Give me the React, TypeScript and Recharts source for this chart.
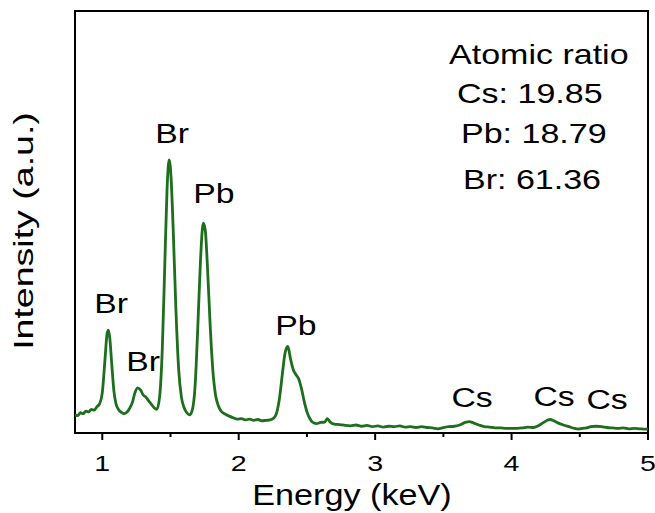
import React from "react";
import { LineChart, Line, XAxis, YAxis, ReferenceArea, Customized } from "recharts";

// EDS spectrum (keV vs arbitrary intensity, 0-100)
const energy = [
    0.8, 0.82, 0.84, 0.86, 0.88, 0.9, 0.92, 0.94, 0.96, 0.98,
    1.0, 1.02, 1.035, 1.045, 1.055, 1.07, 1.085, 1.1, 1.12, 1.14,
    1.16, 1.18, 1.2, 1.22, 1.24, 1.26, 1.28, 1.3, 1.32, 1.34,
    1.36, 1.38, 1.4, 1.42, 1.44, 1.46, 1.475, 1.49, 1.505, 1.52,
    1.54, 1.56, 1.58, 1.6, 1.62, 1.64, 1.66, 1.68, 1.7, 1.72,
    1.74, 1.755, 1.77, 1.79, 1.81, 1.83, 1.85, 1.87, 1.9, 1.93,
    1.96, 1.99, 2.02, 2.05, 2.08, 2.11, 2.14, 2.17, 2.2, 2.23,
    2.26, 2.28, 2.3, 2.32, 2.34, 2.36, 2.38, 2.4, 2.42, 2.44,
    2.46, 2.48, 2.5, 2.52, 2.54, 2.57, 2.6, 2.63, 2.65, 2.67,
    2.7, 2.74, 2.78, 2.82, 2.86, 2.9, 2.94, 2.98, 3.02, 3.06,
    3.1, 3.14, 3.18, 3.22, 3.26, 3.3, 3.34, 3.38, 3.42, 3.46,
    3.5, 3.54, 3.58, 3.62, 3.66, 3.69, 3.72, 3.76, 3.8, 3.84,
    3.88, 3.92, 3.96, 4.0, 4.04, 4.08, 4.12, 4.16, 4.2, 4.24,
    4.28, 4.31, 4.34, 4.38, 4.42, 4.46, 4.49, 4.52, 4.55, 4.58,
    4.62, 4.66, 4.7, 4.74, 4.78, 4.82, 4.86, 4.9, 4.94, 4.98, 5.0,
];
const intensity = [
    4.3, 4.1, 4.8, 4.6, 5.2, 5.0, 5.6, 5.4, 6.2, 6.9,
    9.5, 17.5, 23.5, 24.4, 22.5, 16, 10, 7, 5.5, 4.9,
    4.6, 4.9, 5.8, 7.2, 9.6, 10.7, 10.2, 9.0, 8.5, 7.6,
    6.8, 6.0, 5.6, 8.5, 20, 42, 58, 64.7, 60, 48,
    29, 15, 8.5, 6, 4.8, 4.3, 5.5, 11, 25, 41,
    49.7, 48, 40, 26, 15, 9, 6.5, 5.2, 4.5, 4.0,
    3.6, 3.3, 3.4, 3.1, 3.3, 3.0, 3.2, 2.9, 3.0, 3.1,
    3.6, 5, 8.5, 14, 19, 20.5, 17.5, 15, 13.8, 12.8,
    10.5, 7.5, 5, 3.5, 2.6, 2.2, 2.5, 2.6, 3.4, 2.6,
    2.1, 2.0, 1.8, 1.7, 1.9, 1.6, 1.8, 1.5, 1.7, 1.4,
    1.6, 1.5, 1.7, 1.4, 1.5, 1.3, 1.5, 1.3, 1.2, 1.0,
    1.3, 1.5, 1.6, 1.9, 2.5, 2.7, 2.4, 1.9, 1.5, 1.4,
    1.2, 1.2, 1.1, 1.1, 1.1, 1.2, 1.4, 1.3, 1.8, 2.6,
    3.2, 2.9, 2.4, 1.9, 1.5, 1.1, 0.95, 1.1, 1.2, 1.5,
    1.6, 1.5, 1.3, 1.2, 1.1, 1.2, 1.0, 1.1, 1.0, 0.9, 1.0,
];

const energyTicks = [1, 1.5, 2, 2.5, 3, 3.5, 4, 4.5, 5];

// peak labels: text, pixel anchor (centre, baseline)
const peakNames = ["Br", "Br", "Br", "Pb", "Pb", "Cs", "Cs", "Cs"];
const peakX = [111, 143, 172, 214, 296, 472, 554, 607];
const peakY = [313, 371, 143, 203, 335, 407, 406, 409];

const ratioLines = ["Atomic ratio", "Cs: 19.85", "Pb: 18.79", "Br: 61.36"];
const ratioX = [449, 457, 461, 463];
const ratioY = [64, 103, 143, 189];

const data = energy.map((e, i) => ({ e, v: intensity[i] }));

const FONT = "'Liberation Sans', Arial, sans-serif";

function SText({ x, y, size, sx, anchor = "middle", rotate = 0, children }: any) {
    const rot = rotate ? ` rotate(${rotate})` : "";
    return (
        <text
            transform={`translate(${x},${y})${rot} scale(${sx},1)`}
            fontSize={size}
            fontFamily={FONT}
            textAnchor={anchor}
            fill="#000"
        >
            {children}
        </text>
    );
}

function EnergyTick(props: any) {
    const { x, y, payload } = props;
    const major = Number.isInteger(payload.value);
    return (
        <g>
            <line x1={x} x2={x} y1={y} y2={y + (major ? 7 : 4)} stroke="#000" strokeWidth={2} />
            {major && (
                <SText x={x} y={y + 38} size={22} sx={1.3}>
                    {payload.value}
                </SText>
            )}
        </g>
    );
}

function Annotations() {
    return (
        <g>
            {peakNames.map((t, i) => (
                <SText key={"p" + i} x={peakX[i]} y={peakY[i]} size={27} sx={1.25}>
                    {t}
                </SText>
            ))}
            {ratioLines.map((t, i) => (
                <SText key={"r" + i} x={ratioX[i]} y={ratioY[i]} size={27} sx={1.26} anchor="start">
                    {t}
                </SText>
            ))}
            <SText x={352} y={505} size={30} sx={1.14}>Energy (keV)</SText>
            <SText x={33} y={231} size={28} sx={1.34} rotate={-90}>Intensity (a.u.)</SText>
        </g>
    );
}

export default function App() {
    return (
        <div style={{ position: "absolute", left: 0, top: 0, width: 655, height: 513, background: "#fff" }}>
            <LineChart width={655} height={513} data={data} margin={{ top: 11, right: 7, bottom: 0, left: 75 }}>
                <XAxis
                    dataKey="e"
                    type="number"
                    domain={[0.8, 5]}
                    ticks={energyTicks}
                    interval={0}
                    allowDataOverflow
                    height={80}
                    axisLine={false}
                    tickLine={false}
                    tickSize={0}
                    tickMargin={0}
                    tick={<EnergyTick />}
                />
                <YAxis hide domain={[0, 100]} allowDataOverflow />
                <ReferenceArea x1={0.8} x2={5} y1={0} y2={100} fill="none" fillOpacity={0} stroke="#000" strokeWidth={2} />
                <Line
                    type="monotone"
                    dataKey="v"
                    stroke="#1d6e1d"
                    strokeWidth={2.8}
                    dot={false}
                    isAnimationActive={false}
                />
                <Customized component={Annotations} />
            </LineChart>
        </div>
    );
}
